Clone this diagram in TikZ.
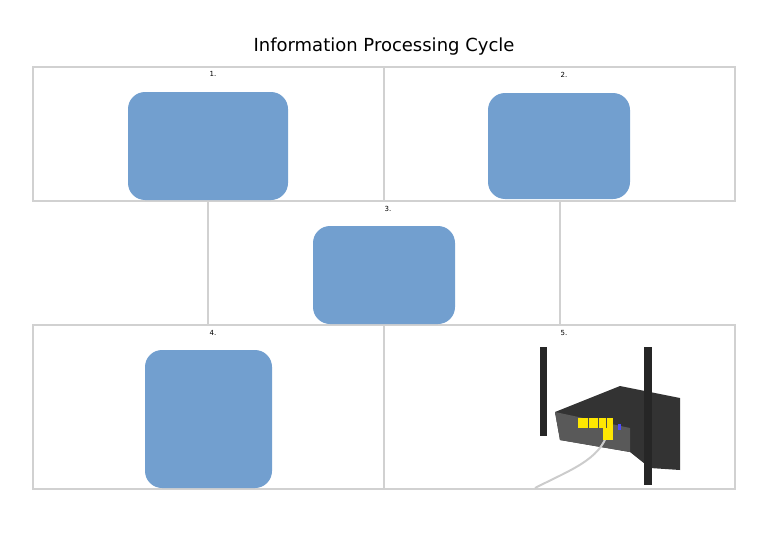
\documentclass[tikz,border=0pt]{standalone}
\usepackage{fontspec}
\setmainfont{DejaVu Sans}
\begin{document}
\begin{tikzpicture}[x=1pt,y=-1pt,
  frame/.style={draw=black!18,line width=1.2pt},
  blob/.style={fill={rgb,255:red,114;green,159;blue,207},rounded corners=17pt},
  lab/.style={font=\fontsize{7}{8}\selectfont,anchor=north}]
\useasboundingbox (0,0) rectangle (768,543);
\node (title) at (384,47) {\fontsize{18}{20}\selectfont Information Processing Cycle};
\draw[frame] (33,67) rectangle (735,201);
\draw[frame] (384,67) -- (384,201);
\draw[frame] (208,201) -- (208,325);
\draw[frame] (560,201) -- (560,325);
\draw[frame] (33,325) rectangle (735,489);
\draw[frame] (384,325) -- (384,489);
\node[lab] (l1) at (213,68) {1.};
\node[lab] (l2) at (564,69) {2.};
\node[lab] (l3) at (388,203) {3.};
\node[lab] (l4) at (213,327) {4.};
\node[lab] (l5) at (564,327) {5.};
\fill[blob] (128,92) rectangle (288,200);
\fill[blob] (488,93) rectangle (630,199);
\fill[blob] (313,226) rectangle (455,324);
\fill[blob] (145,350) rectangle (272,488);
% router
\fill[black!85] (540,347) rectangle (547,436);
\fill[black!80] (555,412) -- (620,386) -- (680,398) -- (680,470) -- (650,468) -- (630,452) -- (560,440) -- cycle;
\fill[black!65] (555,412) -- (630,428) -- (630,452) -- (560,440) -- cycle;
\fill[yellow!90!orange] (578,418) rectangle (613,428);
\draw[black!70,line width=0.5pt] (588,418) -- (588,428) (598,418) -- (598,428) (606,418) -- (606,428);
\fill[blue!70] (618,424) rectangle (621,430);
\draw[black!20,line width=2pt] (608,432) .. controls (600,460) and (570,470) .. (535,488);
\fill[yellow!90!orange] (603,428) rectangle (613,440);
\fill[black!85] (644,347) rectangle (652,485);
\end{tikzpicture}
\end{document}
